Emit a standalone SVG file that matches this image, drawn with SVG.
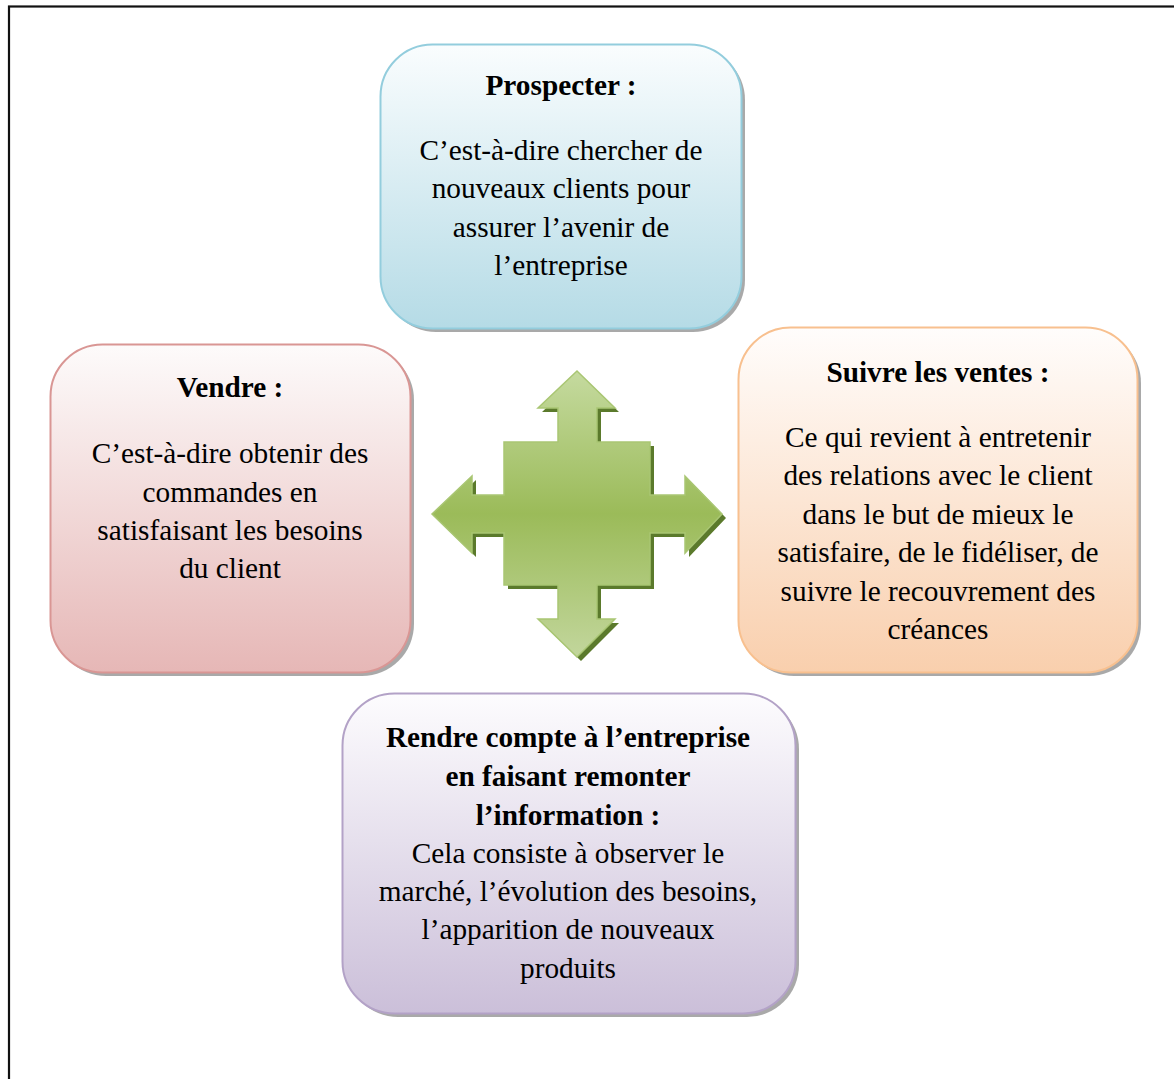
<svg xmlns="http://www.w3.org/2000/svg" width="1174" height="1079" viewBox="0 0 1174 1079">
<style>
.t{font-family:"Liberation Serif","Times New Roman",serif;font-size:29.3px;fill:#000;text-anchor:middle}
.b{font-weight:bold}
.sh{fill:#8c8c8c;opacity:0.75}
</style>
<defs>
<linearGradient id="gBlue" x1="0" y1="0" x2="0" y2="1"><stop offset="0" stop-color="#fafdfe"/><stop offset="1" stop-color="#b5dbe6"/></linearGradient>
<linearGradient id="gRed" x1="0" y1="0" x2="0" y2="1"><stop offset="0" stop-color="#fdfbfb"/><stop offset="1" stop-color="#e6b7b6"/></linearGradient>
<linearGradient id="gOr" x1="0" y1="0" x2="0" y2="1"><stop offset="0" stop-color="#fffdfc"/><stop offset="1" stop-color="#f9cfad"/></linearGradient>
<linearGradient id="gPu" x1="0" y1="0" x2="0" y2="1"><stop offset="0" stop-color="#fdfcfe"/><stop offset="1" stop-color="#cbbfd9"/></linearGradient>
<linearGradient id="gGr" x1="0" y1="0" x2="0" y2="1"><stop offset="0" stop-color="#c5da9f"/><stop offset="0.5" stop-color="#9bbb59"/><stop offset="1" stop-color="#c2d69c"/></linearGradient>
<path id="cross" d="M577,371 L615,408 L597,408 L597,442 L650,442 L650,495 L685,495 L685,476 L722,514 L685,553 L685,533 L650,533 L650,585 L597,585 L597,619 L615,619 L577,657 L538,619 L558,619 L558,585 L504,585 L504,533 L472,533 L472,553 L432,514 L472,476 L472,495 L504,495 L504,442 L558,442 L558,408 L538,408 Z"/>
</defs>
<rect x="9" y="6.5" width="1180" height="1090" fill="#fff" stroke="#111" stroke-width="2.2"/>

<g id="center-arrows">
<use href="#cross" transform="translate(4,4)" fill="#5b7a2c"/>
<use href="#cross" fill="url(#gGr)" stroke="#a9c673" stroke-width="1.5"/>
</g>

<g id="connectors"></g>

<g id="node-prospecter">
<rect class="sh" x="384" y="48" width="361" height="284" rx="52"/>
<rect x="380.5" y="44.5" width="361" height="284" rx="52" fill="url(#gBlue)" stroke="#93cddd" stroke-width="2"/>
<text class="t b" x="561" y="95">Prospecter :</text>
<text class="t" x="561" y="160">C’est-à-dire chercher de</text>
<text class="t" x="561" y="198">nouveaux clients pour</text>
<text class="t" x="561" y="237">assurer l’avenir de</text>
<text class="t" x="561" y="275">l’entreprise</text>
</g>

<g id="node-vendre">
<rect class="sh" x="54" y="348" width="360" height="328" rx="52"/>
<rect x="50.5" y="344.5" width="360" height="328" rx="52" fill="url(#gRed)" stroke="#d99694" stroke-width="2"/>
<text class="t b" x="230" y="397">Vendre :</text>
<text class="t" x="230" y="463">C’est-à-dire obtenir des</text>
<text class="t" x="230" y="502">commandes en</text>
<text class="t" x="230" y="540">satisfaisant les besoins</text>
<text class="t" x="230" y="578">du client</text>
</g>

<g id="node-suivre">
<rect class="sh" x="742" y="331" width="399" height="345" rx="52"/>
<rect x="738.5" y="327.5" width="399" height="345" rx="52" fill="url(#gOr)" stroke="#f8c08f" stroke-width="2"/>
<text class="t b" x="938" y="382">Suivre les ventes :</text>
<text class="t" x="938" y="447">Ce qui revient à entretenir</text>
<text class="t" x="938" y="485">des relations avec le client</text>
<text class="t" x="938" y="524">dans le but de mieux le</text>
<text class="t" x="938" y="562">satisfaire, de le fidéliser, de</text>
<text class="t" x="938" y="601">suivre le recouvrement des</text>
<text class="t" x="938" y="639">créances</text>
</g>

<g id="node-rendre">
<rect class="sh" x="346" y="697" width="453" height="320" rx="52"/>
<rect x="342.5" y="693.5" width="453" height="320" rx="52" fill="url(#gPu)" stroke="#b3a2c7" stroke-width="2"/>
<text class="t b" x="568" y="747">Rendre compte à l’entreprise</text>
<text class="t b" x="568" y="786">en faisant remonter</text>
<text class="t b" x="568" y="825">l’information :</text>
<text class="t" x="568" y="863">Cela consiste à observer le</text>
<text class="t" x="568" y="901">marché, l’évolution des besoins,</text>
<text class="t" x="568" y="939">l’apparition de nouveaux</text>
<text class="t" x="568" y="978">produits</text>
</g>
</svg>
